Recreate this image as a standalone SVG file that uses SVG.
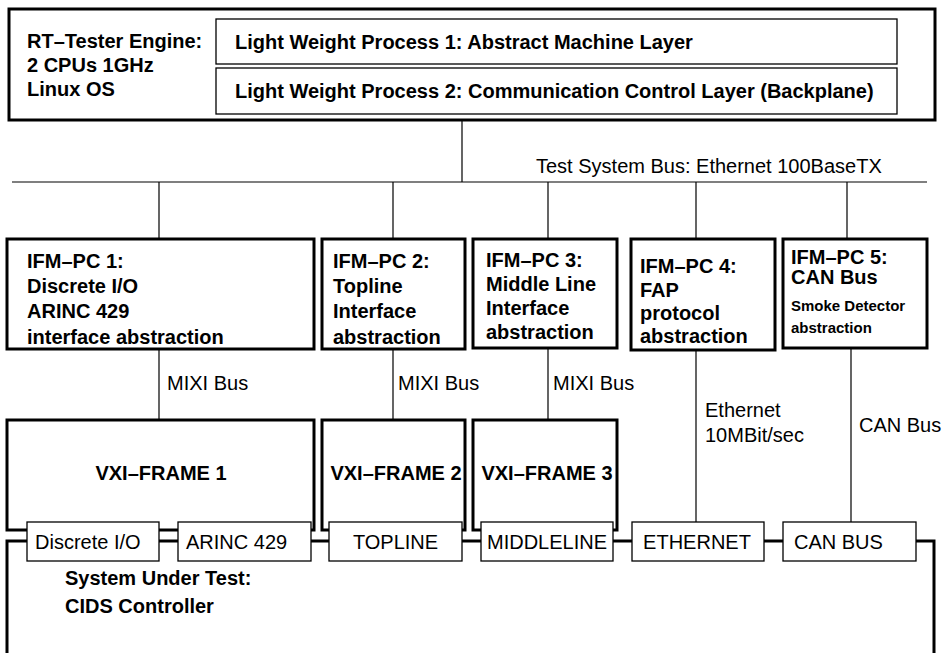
<svg xmlns="http://www.w3.org/2000/svg" width="943" height="653" viewBox="0 0 943 653">
<style>
  .thick{fill:#fff;stroke:#000;stroke-width:3}
  .thin{fill:#fff;stroke:#000;stroke-width:1.3}
  .line{fill:none;stroke:#000;stroke-width:1.2}
  .tline{fill:none;stroke:#000;stroke-width:3}
  text{font-family:"Liberation Sans",Arial,Helvetica,sans-serif;fill:#000}
  .b{font-weight:bold;font-size:20px}
  .bs{font-weight:bold;font-size:15px}
  .vx{font-weight:bold;font-size:20px}
  .r{font-size:20px}
</style>
<rect width="943" height="653" fill="#fff"/>

<g id="sut">
  <path class="tline" d="M7,653 V541 H934 V653"/>
  <text class="b" x="65" y="585">System Under Test:</text>
  <text class="b" x="65" y="613">CIDS Controller</text>
</g>

<g id="engine">
  <rect class="thick" x="9" y="9" width="926" height="111"/>
  <text class="b" x="27" y="48">RT–Tester Engine:</text>
  <text class="b" x="27" y="72">2 CPUs 1GHz</text>
  <text class="b" x="27" y="96">Linux OS</text>
</g>
<g id="lwp1">
  <rect class="thin" x="216" y="19" width="681" height="45"/>
  <text class="b" x="235" y="49">Light Weight Process 1: Abstract Machine Layer</text>
</g>
<g id="lwp2">
  <rect class="thin" x="216" y="68" width="681" height="46"/>
  <text class="b" x="235" y="98">Light Weight Process 2: Communication Control Layer (Backplane)</text>
</g>

<g id="connectors">
  <path class="line" d="M462,120 V182 M12,182 H927 M159,182 V239 M393,182 V239 M548,182 V239 M696,182 V239 M847,182 V239"/>
  <path class="line" d="M159,349 V420 M393,349 V420 M548,348 V420 M696,350 V522 M851,348 V522"/>
  <text class="r" x="536" y="173">Test System Bus: Ethernet 100BaseTX</text>
  <text class="r" x="167" y="390">MIXI Bus</text>
  <text class="r" x="398" y="390">MIXI Bus</text>
  <text class="r" x="553" y="390">MIXI Bus</text>
  <text class="r" x="705" y="417">Ethernet</text>
  <text class="r" x="705" y="442">10MBit/sec</text>
  <text class="r" x="859" y="432">CAN Bus</text>
</g>

<g id="ifm1">
  <rect class="thick" x="7" y="239" width="307" height="110"/>
  <text class="b" x="27" y="268">IFM–PC 1:</text>
  <text class="b" x="27" y="293">Discrete I/O</text>
  <text class="b" x="27" y="318">ARINC 429</text>
  <text class="b" x="27" y="344">interface abstraction</text>
</g>
<g id="ifm2">
  <rect class="thick" x="322" y="239" width="143" height="110"/>
  <text class="b" x="333" y="268">IFM–PC 2:</text>
  <text class="b" x="333" y="293">Topline</text>
  <text class="b" x="333" y="318">Interface</text>
  <text class="b" x="333" y="344">abstraction</text>
</g>
<g id="ifm3">
  <rect class="thick" x="473" y="239" width="144" height="109"/>
  <text class="b" x="486" y="267">IFM–PC 3:</text>
  <text class="b" x="486" y="291">Middle Line</text>
  <text class="b" x="486" y="315">Interface</text>
  <text class="b" x="486" y="339">abstraction</text>
</g>
<g id="ifm4">
  <rect class="thick" x="631" y="239" width="144" height="111"/>
  <text class="b" x="640" y="273">IFM–PC 4:</text>
  <text class="b" x="640" y="297">FAP</text>
  <text class="b" x="640" y="320">protocol</text>
  <text class="b" x="640" y="343">abstraction</text>
</g>
<g id="ifm5">
  <rect class="thick" x="783" y="239" width="144" height="109"/>
  <text class="b" x="791" y="264">IFM–PC 5:</text>
  <text class="b" x="791" y="284">CAN Bus</text>
  <text class="bs" x="791" y="311">Smoke Detector</text>
  <text class="bs" x="791" y="333">abstraction</text>
</g>

<g id="vxi1">
  <rect class="thick" x="7" y="420" width="307" height="110"/>
  <text class="vx" x="161" y="480" text-anchor="middle">VXI–FRAME 1</text>
</g>
<g id="vxi2">
  <rect class="thick" x="322" y="420" width="143" height="110"/>
  <text class="vx" x="396" y="480" text-anchor="middle">VXI–FRAME 2</text>
</g>
<g id="vxi3">
  <rect class="thick" x="473" y="420" width="144" height="110"/>
  <text class="vx" x="547" y="480" text-anchor="middle">VXI–FRAME 3</text>
</g>

<g id="port-discrete">
  <rect class="thin" x="27" y="522" width="132" height="39"/>
  <text class="r" x="35" y="549">Discrete I/O</text>
</g>
<g id="port-arinc">
  <rect class="thin" x="178" y="522" width="133" height="39"/>
  <text class="r" x="186" y="549">ARINC 429</text>
</g>
<g id="port-topline">
  <rect class="thin" x="329" y="522" width="133" height="39"/>
  <text class="r" x="395.5" y="549" text-anchor="middle">TOPLINE</text>
</g>
<g id="port-middleline">
  <rect class="thin" x="481" y="522" width="132" height="39"/>
  <text class="r" x="547" y="549" text-anchor="middle">MIDDLELINE</text>
</g>
<g id="port-ethernet">
  <rect class="thin" x="632" y="522" width="132" height="39"/>
  <text class="r" x="697" y="549" text-anchor="middle">ETHERNET</text>
</g>
<g id="port-canbus">
  <rect class="thin" x="783" y="522" width="133" height="39"/>
  <text class="r" x="794" y="549">CAN BUS</text>
</g>
</svg>
